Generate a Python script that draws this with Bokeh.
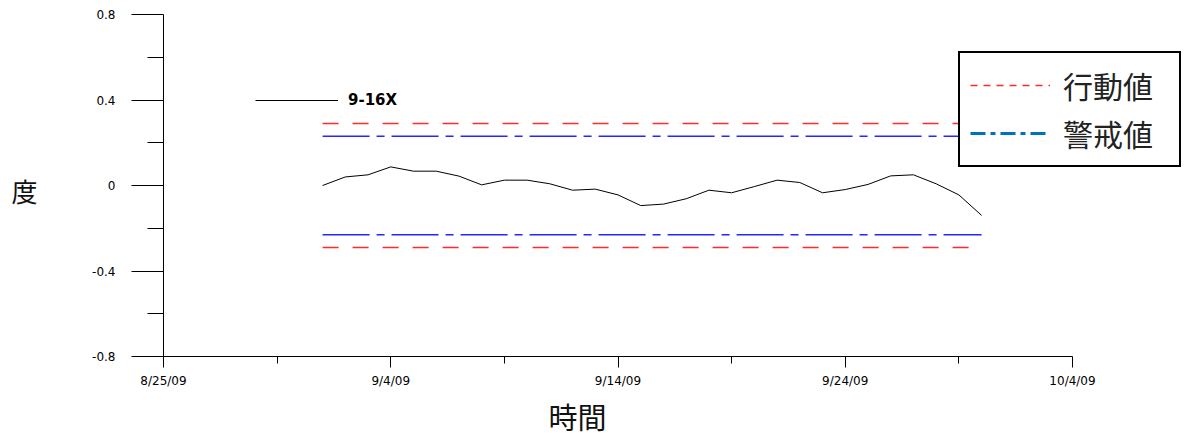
import pandas as pd
from bokeh.plotting import figure
from bokeh.models import FixedTicker, Legend, LegendItem, Label
from bokeh.embed import file_html
from bokeh.resources import INLINE

# ---------------- data ----------------
dates = pd.date_range("2009-09-01", "2009-09-30", freq="D")
values = [0.00, 0.04, 0.05, 0.087, 0.067, 0.067, 0.044, 0.003, 0.025, 0.025,
          0.008, -0.022, -0.017, -0.044, -0.094, -0.087, -0.062, -0.022, -0.034, -0.005,
          0.025, 0.014, -0.034, -0.019, 0.005, 0.045, 0.05, 0.008, -0.044, -0.14]
series_name = "9-16X"
action_level = 0.29
warning_level = 0.23
legend_labels = ["行動値", "警戒値"]

x_tick_dates = ["2009-08-25", "2009-09-04", "2009-09-14", "2009-09-24", "2009-10-04"]
x_tick_labels = ["8/25/09", "9/4/09", "9/14/09", "9/24/09", "10/4/09"]
x_minor_dates = ["2009-08-30", "2009-09-09", "2009-09-19", "2009-09-29"]
y_ticks = [-0.8, -0.4, 0, 0.4, 0.8]
y_tick_labels = ["-0.8", "-0.4", "0", "0.4", "0.8"]
y_minor = [-0.6, -0.2, 0.2, 0.6]
x_title = "時間"
y_title = "度"

def ms(d):
    return pd.Timestamp(d).value / 1e6

# ---------------- layout (pixels) ----------------
W, H = 1185, 440
ax_left, ax_right = 163, 1072     # pixel x of first / last x tick
ax_top, ax_bottom = 14, 356       # pixel y of top / bottom y tick
x0, x1 = ms(x_tick_dates[0]), ms(x_tick_dates[-1])
y0, y1 = y_ticks[0], y_ticks[-1]
px_per_ms = (ax_right - ax_left) / (x1 - x0)
px_per_unit = (ax_bottom - ax_top) / (y1 - y0)
xr = (x0 - ax_left / px_per_ms, x1 + (W - ax_right) / px_per_ms)
yr = (y0 - (H - ax_bottom) / px_per_unit, y1 + ax_top / px_per_unit)

p = figure(width=W, height=H, x_axis_type="datetime", x_range=xr, y_range=yr,
           min_border_left=0, min_border_right=0, min_border_top=0, min_border_bottom=0,
           output_backend="svg", toolbar_location=None)
p.title.visible = False
p.outline_line_color = None
p.xgrid.visible = False
p.ygrid.visible = False
p.background_fill_color = "white"
p.border_fill_color = "white"

# reference lines
x_span = [dates[0], dates[-1]]
for lvl in (action_level, -action_level):
    p.line(x_span, [lvl, lvl], line_color="#FF2A2A", line_width=1.5, line_dash="16 14")
for lvl in (warning_level, -warning_level):
    p.line(x_span, [lvl, lvl], line_color="#2626FF", line_width=1.5, line_dash="47 7 8 7")

# data line
data_r = p.line(dates, values, line_color="black", line_width=1)

# legend-only renderers (no visible data)
nan = float("nan")
leg_action = p.line([x0, x0], [nan, nan], line_color="#FF2A2A", line_width=1.5, line_dash="7 6")
leg_warning = p.line([x0, x0], [nan, nan], line_color="#0070C0", line_width=3, line_dash="15 5 5 5")

# axes
TICK_FONT = "DejaVu Sans"
xa = p.xaxis[0]
xa.fixed_location = y0
xa.bounds = (x0, x1)
xa.ticker = FixedTicker(ticks=[ms(d) for d in x_tick_dates], minor_ticks=[ms(d) for d in x_minor_dates])
xa.major_label_overrides = {ms(d): lab for d, lab in zip(x_tick_dates, x_tick_labels)}
xa.major_tick_out = 11
xa.major_tick_in = 0
xa.minor_tick_out = 7
xa.minor_tick_in = 0
xa.major_label_standoff = 6
xa.major_label_text_font = TICK_FONT
xa.major_label_text_font_size = "12px"
xa.major_label_text_color = "black"
xa.axis_line_color = "black"
xa.major_tick_line_color = "black"
xa.minor_tick_line_color = "black"

ya = p.yaxis[0]
ya.fixed_location = x0
ya.bounds = (y0, y1)
ya.ticker = FixedTicker(ticks=y_ticks, minor_ticks=y_minor)
ya.major_label_overrides = {t: lab for t, lab in zip(y_ticks, y_tick_labels)}
ya.major_tick_out = 32
ya.major_tick_in = 0
ya.minor_tick_out = 16
ya.minor_tick_in = 0
ya.major_label_standoff = 16
ya.major_label_text_font = TICK_FONT
ya.major_label_text_font_size = "12px"
ya.major_label_text_color = "black"
ya.axis_line_color = "black"
ya.major_tick_line_color = "black"
ya.minor_tick_line_color = "black"

# series legend
leg1 = Legend(items=[LegendItem(label=series_name, renderers=[data_r])],
              location=(255, H - 110), glyph_width=83, glyph_height=20, label_height=20,
              padding=0, margin=0, spacing=0, label_standoff=10,
              border_line_alpha=0, background_fill_alpha=0,
              label_text_font="DejaVu Sans", label_text_font_style="bold",
              label_text_font_size="15px", label_text_color="black")
p.add_layout(leg1)

# limits legend
leg2 = Legend(items=[LegendItem(label=legend_labels[0], renderers=[leg_action]),
                     LegendItem(label=legend_labels[1], renderers=[leg_warning])],
              location=(958, H - 167), glyph_width=80, glyph_height=36, label_height=36,
              label_width=106,
              padding=10, margin=0, spacing=4, label_standoff=13,
              border_line_color="black", border_line_width=2.5, border_line_alpha=1,
              background_fill_color="white", background_fill_alpha=1,
              label_text_font="Noto Sans CJK JP", label_text_font_size="30px",
              label_text_color="#222222")
p.add_layout(leg2)

# axis titles
p.add_layout(Label(x=24, y=H - 190, x_units="screen", y_units="screen", text=y_title,
                   text_font="Noto Sans CJK JP", text_font_size="26px",
                   text_align="center", text_baseline="middle", text_color="#111111"))
p.add_layout(Label(x=577, y=H - 415, x_units="screen", y_units="screen", text=x_title,
                   text_font="Noto Sans CJK JP", text_font_size="29px",
                   text_align="center", text_baseline="middle", text_color="#111111"))

open("out.html", "w").write(file_html(p, INLINE))
